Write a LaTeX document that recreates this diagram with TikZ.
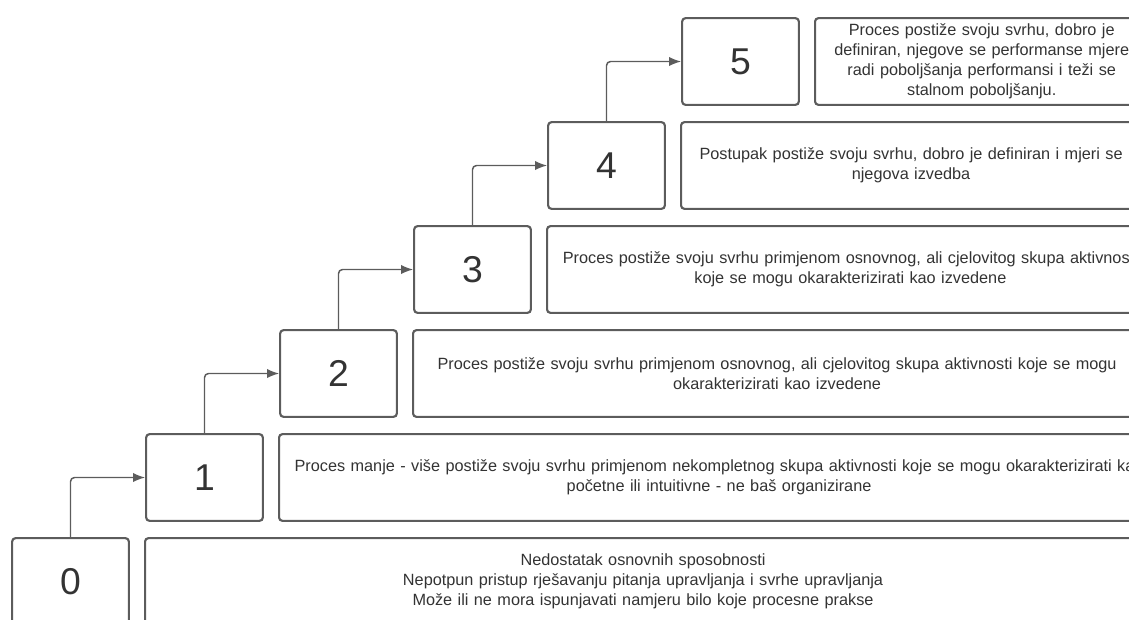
\documentclass[tikz,border=0pt]{standalone}
\usepackage{fontspec}
\setmainfont{Liberation Sans}
\usepackage{tikz}
\usetikzlibrary{arrows.meta}
\definecolor{LineGray}{rgb}{0.36,0.36,0.36}
\definecolor{TextGray}{rgb}{0.2,0.2,0.2}
\tikzset{numbox/.style={draw=LineGray,line width=1.6pt,rounded corners=2.5pt,
  minimum width=87.5pt,minimum height=65pt,inner sep=0pt,
  text=TextGray,font=\fontsize{28}{30}\selectfont}}
\tikzset{descbox/.style={draw=LineGray,line width=1.6pt,rounded corners=2.5pt,
  anchor=west,minimum height=65pt,inner sep=0pt,align=center,
  text=TextGray,font=\fontsize{12.2}{15}\selectfont}}
\tikzset{->-/.style={draw=LineGray,line width=1.1pt,rounded corners=3pt,
  -{Latex[length=9pt,width=7pt]}}}

\begin{document}
\begin{tikzpicture}[x=0.75pt,y=-0.75pt]
\useasboundingbox (0,0) rectangle (1129,619);
\clip (0,0) rectangle (1129,619);

\node[numbox] (n0) at (70.5,581.5) {0};
\node[numbox] (n1) at (204.5,477.5) {1};
\node[numbox] (n2) at (338.5,373.5) {2};
\node[numbox] (n3) at (472.5,269.5) {3};
\node[numbox] (n4) at (606.5,165.5) {4};
\node[numbox] (n5) at (740.5,61.5) {5};

\node[descbox,minimum width=747pt,text width=747pt] (d0) at (144,581.5)
  {Nedostatak osnovnih sposobnosti\\
   Nepotpun pristup rješavanju pitanja upravljanja i svrhe upravljanja\\
   Može ili ne mora ispunjavati namjeru bilo koje procesne prakse};
\node[descbox,minimum width=646.5pt,text width=660pt] (d1) at (278,477.5)
  {Proces manje - više postiže svoju svrhu primjenom nekompletnog skupa aktivnosti koje se mogu okarakterizirati kao\\
   početne ili intuitivne - ne baš organizirane};
\node[descbox,minimum width=546pt,text width=546pt] (d2) at (412,373.5)
  {Proces postiže svoju svrhu primjenom osnovnog, ali cjelovitog skupa aktivnosti koje se mogu\\
   okarakterizirati kao izvedene};
\node[descbox,minimum width=445.5pt,text width=455pt] (d3) at (546,269.5)
  {Proces postiže svoju svrhu primjenom osnovnog, ali cjelovitog skupa aktivnosti\\
   koje se mogu okarakterizirati kao izvedene};
\node[descbox,minimum width=345pt,text width=345pt] (d4) at (680,165.5)
  {Postupak postiže svoju svrhu, dobro je definiran i mjeri se\\
   njegova izvedba};
\node[descbox,minimum width=244.5pt,text width=250pt] (d5) at (814,61.5)
  {Proces postiže svoju svrhu, dobro je\\
   definiran, njegove se performanse mjere\\
   radi poboljšanja performansi i teži se\\
   stalnom poboljšanju.};

\draw[->-] (n0.north) |- (n1.west);
\draw[->-] (n1.north) |- (n2.west);
\draw[->-] (n2.north) |- (n3.west);
\draw[->-] (n3.north) |- (n4.west);
\draw[->-] (n4.north) |- (n5.west);
\end{tikzpicture}
\end{document}
